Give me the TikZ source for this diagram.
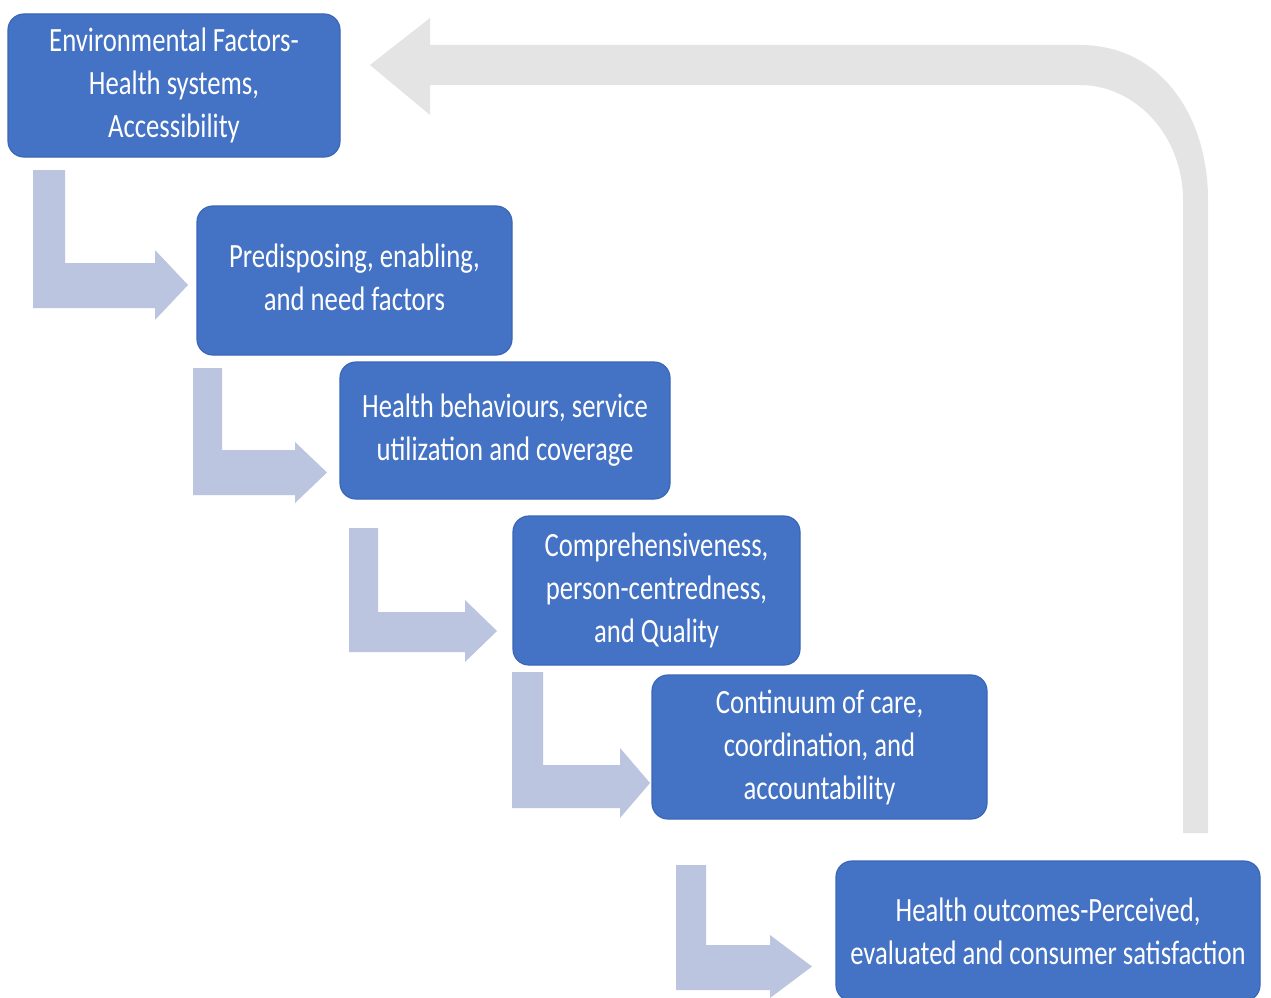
\documentclass[tikz,border=0pt]{standalone}
\usepackage{fontspec}
\setmainfont{Carlito}[FakeStretch=0.785]
\usetikzlibrary{calc}
\definecolor{boxblue}{HTML}{4472C4}
\definecolor{boxedge}{HTML}{3A66B8}
\definecolor{steparrow}{HTML}{BCC5E0}
\definecolor{loopgray}{HTML}{E4E4E4}
% bent step arrow: left x, bar width, top y, bar top y, bar bottom y, head base x, tip x, head top y, head bottom y
\newcommand{\bentarrow}[9]{%
  \fill[steparrow] (#1,#3) -- ({#1+#2},#3) -- ({#1+#2},#4) -- (#6,#4) -- (#6,#8)
    -- (#7,{(#8+#9)/2}) -- (#6,#9) -- (#6,#5) -- (#1,#5) -- cycle;}
\begin{document}
\begin{tikzpicture}[x=1pt,y=-1pt,
  stagebox/.style={draw=boxedge,line width=1.2pt,fill=boxblue,rounded corners=16pt,
    text=white,align=center,inner sep=0pt,
    font=\fontsize{34}{43}\selectfont}]
\useasboundingbox (0,0) rectangle (1271,998);
\clip (0,0) rectangle (1271,998);
\fill[white] (0,0) rectangle (1271,998);

% feedback loop arrow
\fill[loopgray] (1183,833) -- (1183,200) .. controls (1183,135) and (1135,85) .. (1080,85)
  -- (430,85) -- (430,115) -- (370,65) -- (430,18) -- (430,45) -- (1080,45)
  .. controls (1160,45) and (1208,115) .. (1208,200) -- (1208,833) -- cycle;

% stage boxes
\node[stagebox,minimum width=332pt,minimum height=143pt] (env) at (174,85.5)
  {Environmental Factors-\\Health systems,\\Accessibility};
\node[stagebox,minimum width=315pt,minimum height=149pt] (pred) at (354.5,280.5)
  {\raisebox{2pt}{\begin{tabular}{@{}c@{}}Predisposing, enabling,\\and need factors\end{tabular}}};
\node[stagebox,minimum width=330pt,minimum height=137pt] (behav) at (505,430.5)
  {Health behaviours, service\\utilization and coverage};
\node[stagebox,minimum width=287pt,minimum height=149pt] (comp) at (656.5,590.5)
  {Comprehensiveness,\\person-centredness,\\and Quality};
\node[stagebox,minimum width=335pt,minimum height=144pt] (cont) at (819.5,747)
  {Continuum of care,\\coordination, and\\accountability};
\node[stagebox,minimum width=424pt,minimum height=140pt] (outc) at (1048,931)
  {Health outcomes-Perceived,\\evaluated and consumer satisfaction};

% step arrows between stages
\bentarrow{33}{32}{170}{263}{308}{155}{188}{250}{320}
\bentarrow{193}{29}{368}{450}{495}{295}{327}{442}{503}
\bentarrow{349}{29}{528}{612}{652}{465}{497}{600}{662}
\bentarrow{512}{31}{672}{765}{808}{620}{650}{748}{818}
\bentarrow{676}{30}{865}{945}{990}{770}{812}{935}{998}
\end{tikzpicture}
\end{document}
